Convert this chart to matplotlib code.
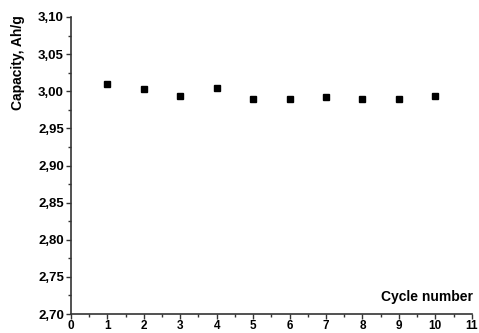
import matplotlib
matplotlib.use('Agg')
import matplotlib.pyplot as plt
from matplotlib.ticker import MultipleLocator, FuncFormatter

# Capacity per cycle
cycles = [1, 2, 3, 4, 5, 6, 7, 8, 9, 10]
capacity = [3.010, 3.003, 2.994, 3.005, 2.989, 2.990, 2.992, 2.989, 2.989, 2.993]

plt.rcParams['font.family'] = ['Liberation Sans', 'DejaVu Sans']
plt.rcParams['font.weight'] = 'bold'

fig = plt.figure(figsize=(4.79, 3.33), dpi=100)
ax = fig.add_axes([0.148, 0.057, 0.837, 0.892])
ax.plot(cycles, capacity, 's', color='black', markersize=4.3)

ax.set_xlim(0, 11)
ax.set_ylim(2.70, 3.10)
ax.xaxis.set_major_locator(MultipleLocator(1))
ax.xaxis.set_minor_locator(MultipleLocator(0.5))
ax.yaxis.set_major_locator(MultipleLocator(0.05))
ax.yaxis.set_minor_locator(MultipleLocator(0.025))
ax.yaxis.set_major_formatter(FuncFormatter(lambda v, p: ('%.2f' % v).replace('.', ',')))

for s in ['top', 'right']:
    ax.spines[s].set_visible(False)
for s in ['left', 'bottom']:
    ax.spines[s].set_linewidth(1.2)
    ax.spines[s].set_color('#333333')
ax.tick_params(which='major', length=3.5, width=1, labelsize=9.5, pad=1.5, color='#333333')
ax.tick_params(axis='x', which='major', labelsize=8.5, pad=0.5)
ax.tick_params(which='minor', length=2, width=1, color='#333333')

fig.text(18.5 / 479, 1 - 62.5 / 333, 'Capacity, Ah/g', rotation=90, ha='center', va='center',
         fontsize=10, fontweight='bold')
ax.text(1.002, 0.034, 'Cycle number', transform=ax.transAxes, ha='right', va='bottom',
        fontsize=10, fontweight='bold')

fig.savefig('out.png', dpi=100)
